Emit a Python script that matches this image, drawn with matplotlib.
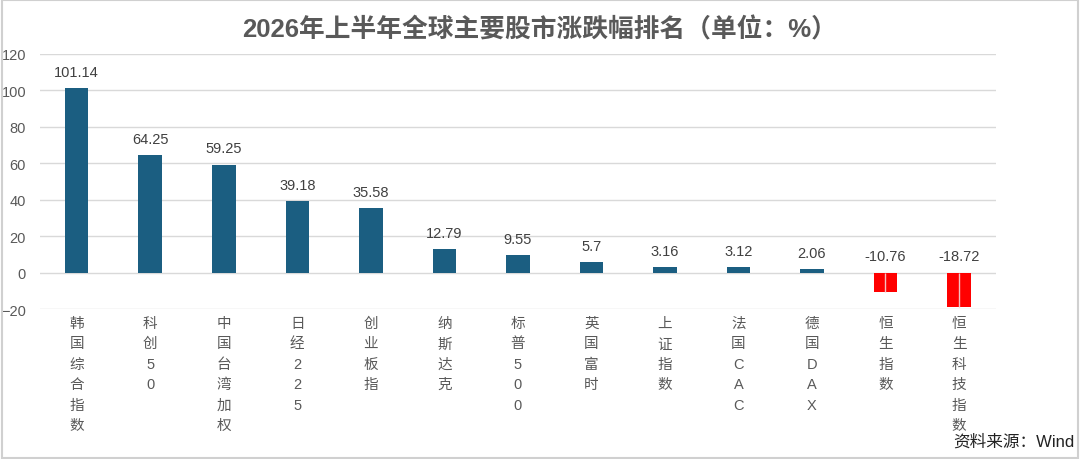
import matplotlib.pyplot as plt
from matplotlib.patches import Rectangle

# Latin glyphs in Arial-like font, CJK falls back to Noto
plt.rcParams['font.family'] = ['Liberation Sans', 'Noto Sans CJK SC', 'DejaVu Sans']

# data
markets = ['韩国综合指数', '科创50', '中国台湾加权', '日经225', '创业板指', '纳斯达克',
           '标普500', '英国富时', '上证指数', '法国CAC', '德国DAX', '恒生指数', '恒生科技指数']
changes = [101.14, 64.25, 59.25, 39.18, 35.58, 12.79, 9.55, 5.7, 3.16, 3.12, 2.06, -10.76, -18.72]
value_labels = ['101.14', '64.25', '59.25', '39.18', '35.58', '12.79', '9.55', '5.7',
                '3.16', '3.12', '2.06', '-10.76', '-18.72']

blue = '#1B5E81'
red = '#FF0000'
grid_c = '#D9D9D9'
text_c = '#595959'

fig = plt.figure(figsize=(10.8, 4.6), dpi=100)
fig.patches.append(Rectangle((0.002, 0.003), 0.996, 0.994, transform=fig.transFigure,
                             fill=False, edgecolor='#D0D0D0', lw=1.5))
ax = fig.add_axes([0.037, 0.326, 0.885, 0.555])

x = list(range(len(markets)))
colors = [blue if v >= 0 else red for v in changes]
ax.bar(x, changes, width=0.32, color=colors, zorder=3)

# thin light line in the middle of negative bars
neg = [(i, v) for i, v in zip(x, changes) if v < 0]
ax.vlines([i for i, _ in neg], [v for _, v in neg], 0, color='#F4C0C0', lw=1, zorder=4)

for i, v, s in zip(x, changes, value_labels):
    y = max(v, 0) + 5
    ax.text(i, y, s, ha='center', va='bottom', fontsize=10.5, color='#404040')

ax.set_xlim(-0.5, len(markets) - 0.5)
ax.set_ylim(-20, 120)
ax.set_yticks(range(-20, 121, 20))
ax.grid(axis='y', color=grid_c, lw=1, zorder=0)
ax.tick_params(axis='y', length=0, labelsize=10.5, labelcolor=text_c, pad=10)
for sp in ax.spines.values():
    sp.set_visible(False)

ax.set_xticks(x)
ax.set_xticklabels(['\n'.join(m) for m in markets], fontsize=10.5, color=text_c,
                   linespacing=1.58, va='top')
ax.tick_params(axis='x', length=0, pad=5)

fig.text(0.5, 0.935, '2026年上半年全球主要股市涨跌幅排名（单位：%）', ha='center', va='center',
         fontsize=18.5, fontweight='bold', color=text_c)
fig.text(0.995, 0.04, '资料来源：Wind', ha='right', va='center', fontsize=12, color='#222222')

fig.savefig('out.png', dpi=100)
